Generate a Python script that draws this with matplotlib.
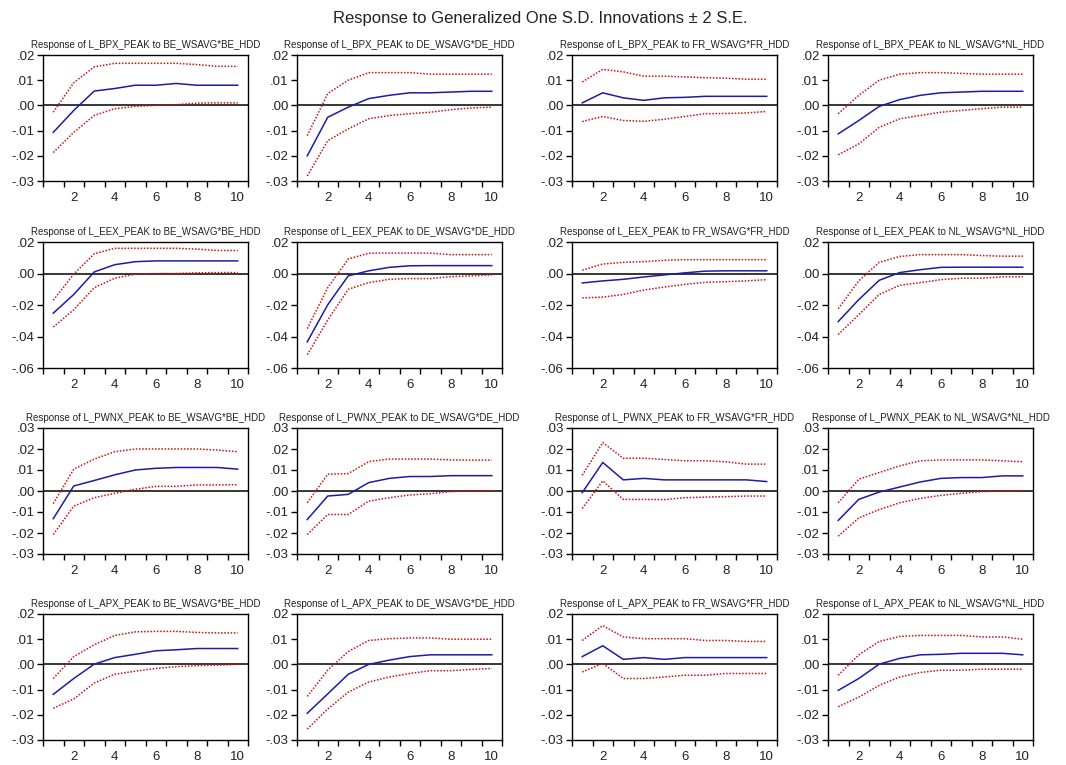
import matplotlib
matplotlib.use("Agg")
import matplotlib.pyplot as plt
import numpy as np

plt.rcParams['font.family'] = ['Liberation Sans', 'DejaVu Sans']

periods = list(range(1, 11))
responders = ["L_BPX_PEAK", "L_EEX_PEAK", "L_PWNX_PEAK", "L_APX_PEAK"]
shocks = ["BE_WSAVG*BE_HDD", "DE_WSAVG*DE_HDD", "FR_WSAVG*FR_HDD", "NL_WSAVG*NL_HDD"]

# row y-limits and tick labels
row_yticks = [
    [0.02, 0.01, 0.00, -0.01, -0.02, -0.03],
    [0.02, 0.00, -0.02, -0.04, -0.06],
    [0.03, 0.02, 0.01, 0.00, -0.01, -0.02, -0.03],
    [0.02, 0.01, 0.00, -0.01, -0.02, -0.03],
]
row_yticklabels = [
    [".02", ".01", ".00", "-.01", "-.02", "-.03"],
    [".02", ".00", "-.02", "-.04", "-.06"],
    [".03", ".02", ".01", ".00", "-.01", "-.02", "-.03"],
    [".02", ".01", ".00", "-.01", "-.02", "-.03"],
]
xtick_labels = ['2', '4', '6', '8', '10']

# ---- responses (blue) with upper / lower bands (red) ----
bpx_be  = [-0.0107, -0.0020, 0.0057, 0.0067, 0.0080, 0.0080, 0.0087, 0.0080, 0.0080, 0.0080]
bpx_be_u = [-0.0027, 0.0090, 0.0153, 0.0167, 0.0167, 0.0167, 0.0167, 0.0162, 0.0155, 0.0155]
bpx_be_l = [-0.0187, -0.0107, -0.0040, -0.0013, -0.0004, 0.0000, 0.0003, 0.0009, 0.0010, 0.0010]

bpx_de  = [-0.0200, -0.0047, -0.0007, 0.0027, 0.0040, 0.0050, 0.0050, 0.0053, 0.0056, 0.0056]
bpx_de_u = [-0.0120, 0.0047, 0.0100, 0.0130, 0.0130, 0.0130, 0.0124, 0.0124, 0.0124, 0.0124]
bpx_de_l = [-0.0280, -0.0140, -0.0093, -0.0053, -0.0040, -0.0033, -0.0027, -0.0017, -0.0010, -0.0007]

bpx_fr  = [0.0010, 0.0050, 0.0030, 0.0020, 0.0030, 0.0032, 0.0036, 0.0036, 0.0036, 0.0036]
bpx_fr_u = [0.0093, 0.0143, 0.0133, 0.0116, 0.0116, 0.0113, 0.0110, 0.0108, 0.0104, 0.0104]
bpx_fr_l = [-0.0064, -0.0044, -0.0060, -0.0063, -0.0055, -0.0044, -0.0033, -0.0032, -0.0030, -0.0024]

bpx_nl  = [-0.0113, -0.0060, -0.0004, 0.0023, 0.0040, 0.0050, 0.0053, 0.0056, 0.0056, 0.0056]
bpx_nl_u = [-0.0033, 0.0040, 0.0100, 0.0124, 0.0130, 0.0130, 0.0127, 0.0124, 0.0124, 0.0124]
bpx_nl_l = [-0.0196, -0.0153, -0.0087, -0.0053, -0.0040, -0.0027, -0.0020, -0.0013, -0.0007, -0.0007]

eex_be  = [-0.0252, -0.0133, 0.0010, 0.0056, 0.0075, 0.0080, 0.0080, 0.0080, 0.0080, 0.0080]
eex_be_u = [-0.0170, -0.0004, 0.0125, 0.0160, 0.0160, 0.0160, 0.0160, 0.0155, 0.0146, 0.0146]
eex_be_l = [-0.0340, -0.0230, -0.0090, -0.0030, -0.0004, 0.0000, 0.0000, 0.0004, 0.0006, 0.0006]

eex_de  = [-0.0434, -0.0198, -0.0015, 0.0017, 0.0039, 0.0049, 0.0050, 0.0050, 0.0050, 0.0050]
eex_de_u = [-0.0350, -0.0090, 0.0092, 0.0129, 0.0130, 0.0130, 0.0129, 0.0120, 0.0120, 0.0120]
eex_de_l = [-0.0516, -0.0295, -0.0100, -0.0058, -0.0037, -0.0032, -0.0032, -0.0020, -0.0015, -0.0009]

eex_fr  = [-0.0060, -0.0047, -0.0037, -0.0022, -0.0009, 0.0004, 0.0015, 0.0017, 0.0017, 0.0017]
eex_fr_u = [0.0021, 0.0060, 0.0071, 0.0075, 0.0084, 0.0088, 0.0088, 0.0088, 0.0088, 0.0088]
eex_fr_l = [-0.0155, -0.0150, -0.0133, -0.0105, -0.0086, -0.0069, -0.0056, -0.0052, -0.0047, -0.0039]

eex_nl  = [-0.0305, -0.0166, -0.0043, 0.0006, 0.0024, 0.0039, 0.0040, 0.0040, 0.0040, 0.0040]
eex_nl_u = [-0.0224, -0.0047, 0.0071, 0.0108, 0.0120, 0.0120, 0.0120, 0.0114, 0.0110, 0.0110]
eex_nl_l = [-0.0387, -0.0262, -0.0133, -0.0075, -0.0058, -0.0039, -0.0030, -0.0030, -0.0021, -0.0021]

pwnx_be  = [-0.0132, 0.0024, 0.0050, 0.0077, 0.0100, 0.0108, 0.0112, 0.0112, 0.0112, 0.0104]
pwnx_be_u = [-0.0060, 0.0104, 0.0152, 0.0187, 0.0200, 0.0200, 0.0200, 0.0200, 0.0195, 0.0187]
pwnx_be_l = [-0.0207, -0.0072, -0.0032, -0.0011, 0.0008, 0.0022, 0.0022, 0.0029, 0.0029, 0.0030]

pwnx_de  = [-0.0136, -0.0024, -0.0016, 0.0040, 0.0060, 0.0069, 0.0069, 0.0073, 0.0073, 0.0073]
pwnx_de_u = [-0.0056, 0.0080, 0.0083, 0.0140, 0.0152, 0.0152, 0.0152, 0.0148, 0.0147, 0.0147]
pwnx_de_l = [-0.0207, -0.0112, -0.0112, -0.0048, -0.0032, -0.0019, -0.0013, -0.0003, 0.0000, 0.0000]

pwnx_fr  = [-0.0008, 0.0136, 0.0053, 0.0060, 0.0053, 0.0053, 0.0053, 0.0053, 0.0053, 0.0045]
pwnx_fr_u = [0.0075, 0.0231, 0.0156, 0.0156, 0.0150, 0.0144, 0.0144, 0.0139, 0.0128, 0.0128]
pwnx_fr_l = [-0.0083, 0.0048, -0.0040, -0.0040, -0.0041, -0.0032, -0.0029, -0.0027, -0.0024, -0.0024]

pwnx_nl  = [-0.0140, -0.0040, -0.0005, 0.0019, 0.0043, 0.0060, 0.0064, 0.0064, 0.0072, 0.0072]
pwnx_nl_u = [-0.0056, 0.0056, 0.0088, 0.0120, 0.0144, 0.0148, 0.0148, 0.0148, 0.0144, 0.0139]
pwnx_nl_l = [-0.0215, -0.0128, -0.0088, -0.0056, -0.0035, -0.0021, -0.0011, -0.0003, 0.0000, 0.0000]

apx_be  = [-0.0119, -0.0056, 0.0001, 0.0027, 0.0040, 0.0054, 0.0058, 0.0063, 0.0063, 0.0063]
apx_be_u = [-0.0056, 0.0031, 0.0078, 0.0115, 0.0129, 0.0131, 0.0131, 0.0127, 0.0125, 0.0125]
apx_be_l = [-0.0174, -0.0137, -0.0074, -0.0039, -0.0027, -0.0016, -0.0009, -0.0005, -0.0003, 0.0000]

apx_de  = [-0.0194, -0.0117, -0.0039, 0.0000, 0.0017, 0.0031, 0.0038, 0.0038, 0.0038, 0.0038]
apx_de_u = [-0.0127, -0.0023, 0.0051, 0.0095, 0.0102, 0.0105, 0.0105, 0.0100, 0.0100, 0.0100]
apx_de_l = [-0.0257, -0.0177, -0.0110, -0.0070, -0.0050, -0.0036, -0.0025, -0.0025, -0.0020, -0.0016]

apx_fr  = [0.0031, 0.0074, 0.0020, 0.0027, 0.0020, 0.0027, 0.0027, 0.0027, 0.0027, 0.0027]
apx_fr_u = [0.0095, 0.0154, 0.0109, 0.0102, 0.0102, 0.0102, 0.0095, 0.0095, 0.0091, 0.0091]
apx_fr_l = [-0.0030, 0.0004, -0.0056, -0.0056, -0.0050, -0.0043, -0.0043, -0.0036, -0.0036, -0.0036]

apx_nl  = [-0.0103, -0.0056, 0.0001, 0.0024, 0.0038, 0.0040, 0.0044, 0.0044, 0.0044, 0.0038]
apx_nl_u = [-0.0043, 0.0038, 0.0091, 0.0111, 0.0115, 0.0115, 0.0115, 0.0109, 0.0109, 0.0100]
apx_nl_l = [-0.0168, -0.0130, -0.0083, -0.0050, -0.0032, -0.0023, -0.0023, -0.0019, -0.0019, -0.0019]

responses = [
    [(bpx_be, bpx_be_u, bpx_be_l), (bpx_de, bpx_de_u, bpx_de_l), (bpx_fr, bpx_fr_u, bpx_fr_l), (bpx_nl, bpx_nl_u, bpx_nl_l)],
    [(eex_be, eex_be_u, eex_be_l), (eex_de, eex_de_u, eex_de_l), (eex_fr, eex_fr_u, eex_fr_l), (eex_nl, eex_nl_u, eex_nl_l)],
    [(pwnx_be, pwnx_be_u, pwnx_be_l), (pwnx_de, pwnx_de_u, pwnx_de_l), (pwnx_fr, pwnx_fr_u, pwnx_fr_l), (pwnx_nl, pwnx_nl_u, pwnx_nl_l)],
    [(apx_be, apx_be_u, apx_be_l), (apx_de, apx_de_u, apx_de_l), (apx_fr, apx_fr_u, apx_fr_l), (apx_nl, apx_nl_u, apx_nl_l)],
]

W, H = 1066, 765
fig = plt.figure(figsize=(W / 100, H / 100), dpi=100)
fig.patch.set_facecolor('white')

col_left = [43, 297, 572, 828]
col_w = 205
row_top = [55, 242, 428, 614]
row_h = 126

blue = '#1c1ca8'
red = '#d01010'
txt = '#222222'

for r in range(4):
    for c in range(4):
        x0 = col_left[c] / W
        y0 = 1 - (row_top[r] + row_h) / H
        ax = fig.add_axes([x0, y0, col_w / W, row_h / H])
        resp, up, lo = responses[r][c]
        ax.axhline(0, color='black', lw=1.1, zorder=1)
        ax.plot(periods, up, color=red, lw=1.1, ls=(0, (1, 1.1)), zorder=2)
        ax.plot(periods, lo, color=red, lw=1.1, ls=(0, (1, 1.1)), zorder=2)
        ax.plot(periods, resp, color=blue, lw=1.1, zorder=3)
        yt = row_yticks[r]
        ax.set_ylim(min(yt), max(yt))
        ax.set_xlim(0.5, 10.5)
        ax.set_yticks(yt)
        ax.set_yticklabels(row_yticklabels[r])
        ax.set_xticks([2, 4, 6, 8, 10])
        ax.set_xticklabels(xtick_labels)
        ax.set_xticks(np.arange(0.5, 10.6, 1.0), minor=True)
        ax.tick_params(axis='x', which='major', length=0, pad=8, labelsize=9.5, labelcolor=txt)
        ax.tick_params(axis='x', which='minor', length=4, direction='out', width=1)
        ax.tick_params(axis='y', which='major', length=4, direction='out', width=1, pad=2,
                       labelsize=9.5, labelcolor=txt)
        for s in ax.spines.values():
            s.set_linewidth(1.0)
        ax.set_title(f"Response of {responders[r]} to {shocks[c]}", fontsize=7.0, pad=5, color=txt)

fig.text(540 / W, 1 - 18 / H, "Response to Generalized One S.D. Innovations \u00b1 2 S.E.",
         ha='center', va='center', fontsize=12, color=txt)

fig.savefig('out.png', dpi=100)
